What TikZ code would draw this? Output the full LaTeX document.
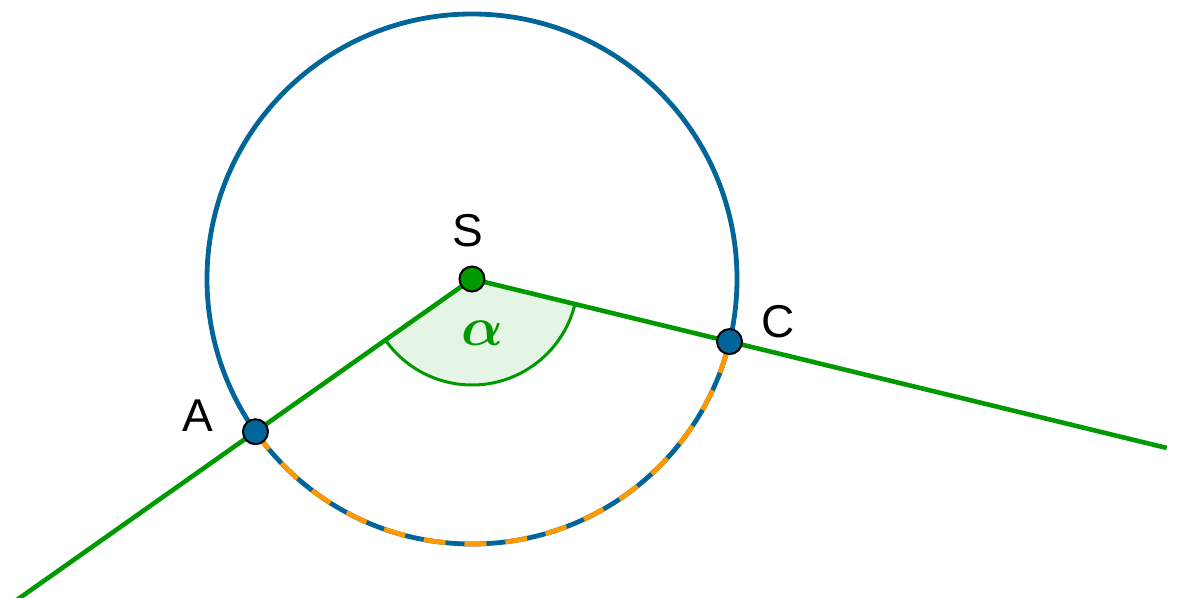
\documentclass[tikz,border=0pt]{standalone}
\usepackage{fontspec}
\usepackage{amsmath,bm}
\usetikzlibrary{calc}
\setmainfont{Liberation Sans}
\definecolor{gblue}{RGB}{0,102,153}
\definecolor{ggreen}{RGB}{0,153,0}
\definecolor{gorange}{RGB}{255,153,0}
\tikzset{
  ray/.style={ggreen, line width=4.6pt},
  circ/.style={gblue, line width=4.8pt},
  arcdash/.style={gorange, line width=4.8pt, dash pattern=on 22pt off 19pt},
  pt/.style={circle, draw=black, line width=2pt, inner sep=0pt, minimum size=25pt},
  lbl/.style={font=\fontsize{46}{50}\selectfont, inner sep=0pt},
}
\begin{document}
\begin{tikzpicture}[x=1pt,y=1pt]
\useasboundingbox (0,0) rectangle (1177,597);
\coordinate (S) at (472,318);
\coordinate (A) at ($(S)+(215.19:265)$);
\coordinate (C) at ($(S)+(346.33:265)$);
\coordinate (E1) at ($(S)+(215.19:580)$);
\coordinate (E2) at ($(S)+(346.33:715)$);
% angle wedge
\fill[ggreen!10] (S) -- ++(215.19:106) arc[start angle=215.19, end angle=346.33, radius=106] -- cycle;
\draw[ggreen, line width=3pt] ($(S)+(215.19:106)$) arc[start angle=215.19, end angle=346.33, radius=106];
% circle
\draw[circ] (S) circle[radius=265];
% rays
\draw[ray] (S) -- (E1);
\draw[ray] (S) -- (E2);
% dashed arc
\draw[arcdash] (A) arc[start angle=215.19, end angle=346.33, radius=265];
% points
\node[pt, fill=ggreen] (Sp) at (S) {};
\node[pt, fill=gblue] (Ap) at (A) {};
\node[pt, fill=gblue] (Cp) at (C) {};
% labels
\node[lbl] (Sl) at (468,366) {S};
\node[lbl] (Al) at (198,181) {A};
\node[lbl] (Cl) at (778,275) {C};
\node[ggreen, scale=5.5, inner sep=0pt] (al) at (482,264) {$\bm{\alpha}$};
\end{tikzpicture}
\end{document}
